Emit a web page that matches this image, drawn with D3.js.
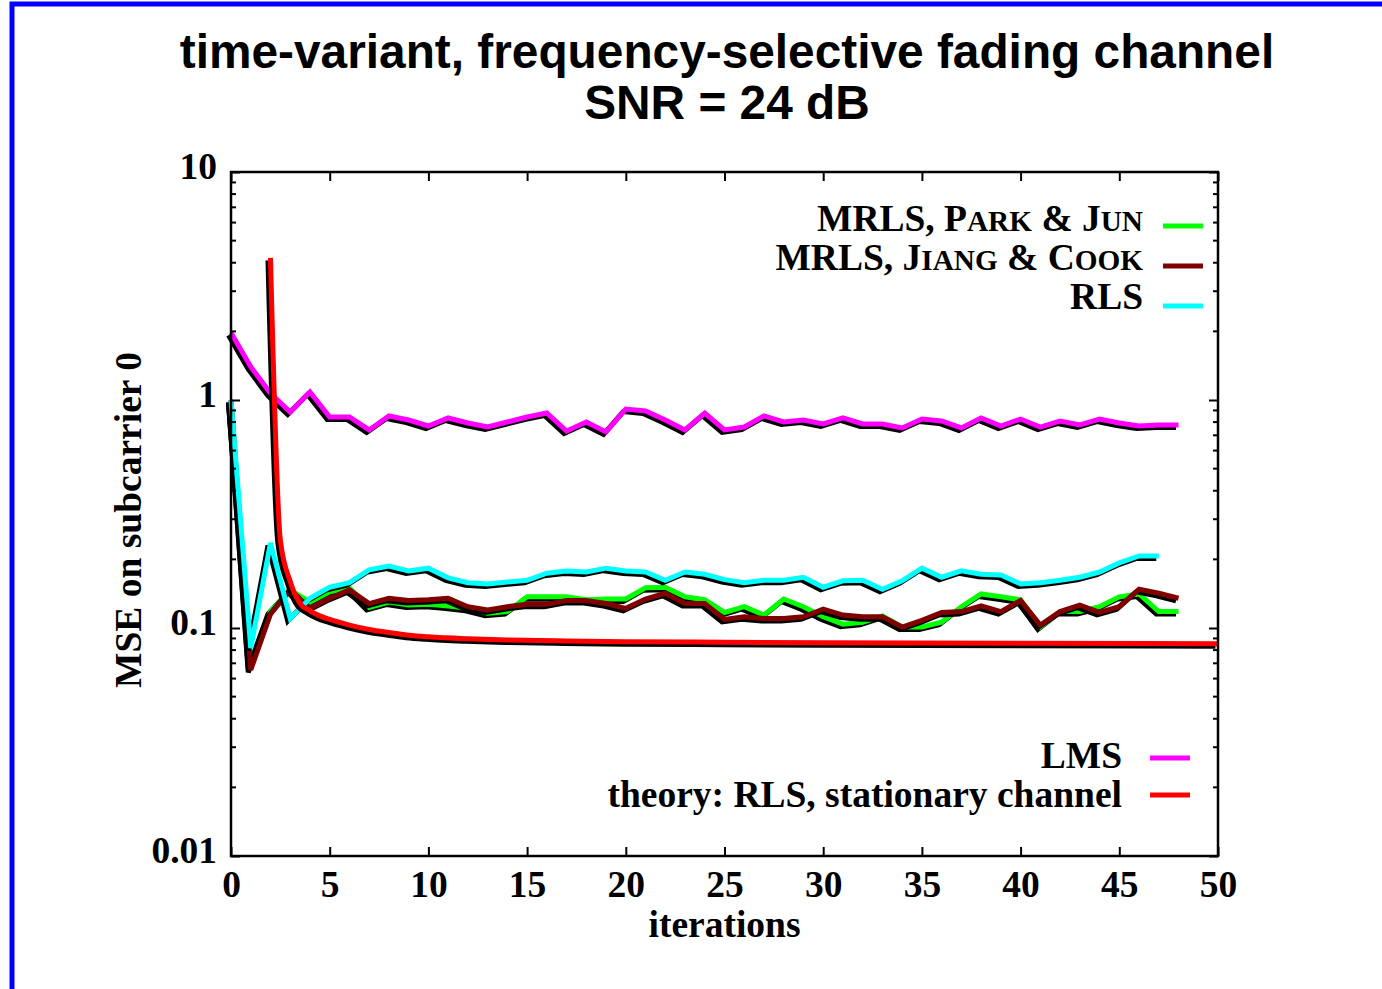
<!DOCTYPE html>
<html>
<head>
<meta charset="utf-8">
<script src="https://cdn.jsdelivr.net/npm/d3@7"></script>
<style>
  html, body { margin: 0; padding: 0; background: #fff; }
  svg { display: block; }
</style>
</head>
<body>
<svg id="chart" width="1382" height="989"></svg>
<script>
// ---------------- DATA ----------------
const titleLines = ["time-variant, frequency-selective fading channel", "SNR = 24 dB"];
const xLabel = "iterations";
const yLabel = "MSE on subcarrier 0";
const xTicks = [0, 5, 10, 15, 20, 25, 30, 35, 40, 45, 50];
const xTickLabels = ["0", "5", "10", "15", "20", "25", "30", "35", "40", "45", "50"];
const yTicks = [0.01, 0.1, 1, 10];
const yTickLabels = ["0.01", "0.1", "1", "10"];

const iterParkJun = d3.range(0, 49);
const mseParkJun = [1.0, 0.068, 0.118, 0.147, 0.130, 0.144, 0.150, 0.123, 0.130, 0.126,
  0.127, 0.125, 0.122, 0.116, 0.118, 0.137, 0.137, 0.137, 0.133, 0.134,
  0.134, 0.150, 0.151, 0.137, 0.133, 0.117, 0.124, 0.114, 0.134, 0.124,
  0.112, 0.104, 0.106, 0.113, 0.101, 0.101, 0.106, 0.124, 0.141, 0.137,
  0.133, 0.101, 0.118, 0.118, 0.124, 0.137, 0.141, 0.118, 0.118];

const iterJiangCook = d3.range(0, 49);
const mseJiangCook = [1.0, 0.0655, 0.115, 0.147, 0.122, 0.135, 0.147, 0.128, 0.135, 0.132,
  0.133, 0.135, 0.124, 0.120, 0.124, 0.127, 0.127, 0.132, 0.132, 0.128,
  0.122, 0.134, 0.142, 0.128, 0.128, 0.109, 0.112, 0.110, 0.110, 0.112,
  0.121, 0.114, 0.112, 0.112, 0.101, 0.108, 0.117, 0.118, 0.125, 0.118,
  0.132, 0.103, 0.118, 0.126, 0.117, 0.124, 0.148, 0.142, 0.135];

const iterRLS = d3.range(0, 48);
const mseRLS = [1.0, 0.0817, 0.236, 0.110, 0.135, 0.151, 0.158, 0.180, 0.187, 0.178,
  0.183, 0.166, 0.158, 0.156, 0.159, 0.162, 0.174, 0.178, 0.176, 0.183,
  0.178, 0.176, 0.162, 0.176, 0.172, 0.163, 0.158, 0.162, 0.162, 0.167,
  0.151, 0.161, 0.162, 0.148, 0.161, 0.183, 0.167, 0.178, 0.172, 0.171,
  0.156, 0.158, 0.162, 0.167, 0.176, 0.193, 0.207, 0.207];

const iterLMS = d3.range(0, 49);
const mseLMS = [1.97, 1.40, 1.07, 0.886, 1.084, 0.842, 0.842, 0.739, 0.851, 0.817,
  0.769, 0.834, 0.793, 0.761, 0.801, 0.842, 0.877, 0.731, 0.801, 0.724,
  0.913, 0.895, 0.817, 0.739, 0.877, 0.739, 0.761, 0.851, 0.801, 0.817,
  0.785, 0.834, 0.785, 0.785, 0.754, 0.825, 0.809, 0.754, 0.834, 0.769,
  0.825, 0.761, 0.809, 0.777, 0.825, 0.793, 0.769, 0.777, 0.777];

const iterTheory = [2, 2.5, 3, 3.5, 4, 4.5, 5, 6, 7, 8, 9, 10, 12, 14, 17, 20, 25, 30, 40, 50];
const mseTheory = [4.2, 0.243, 0.160, 0.128, 0.119, 0.113, 0.109, 0.103, 0.0985, 0.0955,
  0.093, 0.0915, 0.0897, 0.0886, 0.0877, 0.0871, 0.0866, 0.0862, 0.0857, 0.0854];

// ---------------- LAYOUT ----------------
const svg = d3.select("#chart");
const L = 231, R = 1218, T = 172, B = 856;
const serif = "'Liberation Serif', 'Times New Roman', serif";
const sans = "'Liberation Sans', Arial, sans-serif";
const FS = 37.5;

const x = d3.scaleLinear().domain([0, 50]).range([L, R]);
const y = d3.scaleLog().domain([0.01, 10]).range([B, T]);

// blue page border (top & left)
svg.append("rect").attr("x", 12).attr("y", 4).attr("width", 1382).attr("height", 1000)
  .attr("fill", "none").attr("stroke", "#0000ff").attr("stroke-width", 5);

// title
svg.append("text").attr("x", 727).attr("y", 68).attr("text-anchor", "middle")
  .attr("font-family", sans).attr("font-weight", "bold").attr("font-size", 47.8)
  .text(titleLines[0]);
svg.append("text").attr("x", 727).attr("y", 119).attr("text-anchor", "middle")
  .attr("font-family", sans).attr("font-weight", "bold").attr("font-size", 47.8)
  .text(titleLines[1]);

// series
const series = [
  { xs: iterParkJun, ys: mseParkJun, color: "#00ff00", curve: d3.curveLinear },
  { xs: iterJiangCook, ys: mseJiangCook, color: "#800000", curve: d3.curveLinear },
  { xs: iterRLS, ys: mseRLS, color: "#00ffff", curve: d3.curveLinear },
  { xs: iterLMS, ys: mseLMS, color: "#ff00ff", curve: d3.curveLinear },
  { xs: iterTheory, ys: mseTheory, color: "#ff0000", curve: d3.curveMonotoneX }
];

const plot = svg.append("g");
series.forEach(s => {
  const pts = s.xs.map((v, i) => [v, s.ys[i]]);
  const line = d3.line().x(d => x(d[0])).y(d => y(d[1])).curve(s.curve);
  plot.append("path").attr("d", line(pts)).attr("fill", "none")
    .attr("stroke", "#000").attr("stroke-width", 5)
    .attr("transform", "translate(-2.5,2.5)");
  plot.append("path").attr("d", line(pts)).attr("fill", "none")
    .attr("stroke", s.color).attr("stroke-width", 5);
});

// axes
const axisFont = g => g.selectAll("text").attr("font-family", serif)
  .attr("font-weight", "bold").attr("font-size", FS).attr("fill", "#000");

const xAxis = svg.append("g").attr("transform", `translate(0,${B})`)
  .call(d3.axisBottom(x).tickValues(xTicks).tickFormat((d, i) => xTickLabels[i])
    .tickSizeInner(-9).tickSizeOuter(0).tickPadding(14));
xAxis.call(axisFont);
xAxis.select(".domain").remove();
xAxis.selectAll("line").attr("stroke", "#000").attr("stroke-width", 2);

const xAxisTop = svg.append("g").attr("transform", `translate(0,${T})`)
  .call(d3.axisTop(x).tickValues(xTicks).tickFormat("").tickSizeInner(-9).tickSizeOuter(0));
xAxisTop.select(".domain").remove();
xAxisTop.selectAll("line").attr("stroke", "#000").attr("stroke-width", 2);

const yAxis = svg.append("g").attr("transform", `translate(${L},0)`)
  .call(d3.axisLeft(y).tickValues(yTicks).tickFormat((d, i) => yTickLabels[i])
    .tickSizeInner(-9).tickSizeOuter(0).tickPadding(14));
yAxis.call(axisFont);
yAxis.selectAll("text").attr("dy", "0.17em");
yAxis.select(".domain").remove();
yAxis.selectAll("line").attr("stroke", "#000").attr("stroke-width", 2);

const yAxisR = svg.append("g").attr("transform", `translate(${R},0)`)
  .call(d3.axisRight(y).tickValues(yTicks).tickFormat("").tickSizeInner(-9).tickSizeOuter(0));
yAxisR.select(".domain").remove();
yAxisR.selectAll("line").attr("stroke", "#000").attr("stroke-width", 2);

// minor log ticks
const minor = [];
[0.01, 0.1, 1].forEach(dec => { for (let k = 2; k <= 9; k++) minor.push(dec * k); });
svg.append("g").selectAll("line.ml").data(minor).join("line")
  .attr("x1", L).attr("x2", L + 5).attr("y1", d => y(d)).attr("y2", d => y(d))
  .attr("stroke", "#000").attr("stroke-width", 2);
svg.append("g").selectAll("line.mr").data(minor).join("line")
  .attr("x1", R).attr("x2", R - 5).attr("y1", d => y(d)).attr("y2", d => y(d))
  .attr("stroke", "#000").attr("stroke-width", 2);

// frame
svg.append("rect").attr("x", L).attr("y", T).attr("width", R - L).attr("height", B - T)
  .attr("fill", "none").attr("stroke", "#000").attr("stroke-width", 2.5);

// axis labels
svg.append("text").attr("x", (L + R) / 2).attr("y", 937).attr("text-anchor", "middle")
  .attr("font-family", serif).attr("font-weight", "bold").attr("font-size", FS).text(xLabel);
svg.append("text").attr("transform", "translate(141,520) rotate(-90)").attr("text-anchor", "middle")
  .attr("font-family", serif).attr("font-weight", "bold").attr("font-size", FS).text(yLabel);

// legends
const legend1 = [
  { parts: [["MRLS, P", 1], ["ARK", 0.78], [" & J", 1], ["UN", 0.78]], color: "#00ff00", ty: 231, ly: 226 },
  { parts: [["MRLS, J", 1], ["IANG", 0.78], [" & C", 1], ["OOK", 0.78]], color: "#800000", ty: 270, ly: 266 },
  { parts: [["RLS", 1]], color: "#00ffff", ty: 309, ly: 306 }
];
const legend2 = [
  { parts: [["LMS", 1]], color: "#ff00ff", ty: 768, ly: 758 },
  { parts: [["theory: RLS, stationary channel", 1]], color: "#ff0000", ty: 807, ly: 795 }
];
function drawLegend(items, textX, x1, x2) {
  items.forEach(it => {
    const t = svg.append("text").attr("x", textX).attr("y", it.ty).attr("text-anchor", "end")
      .attr("font-family", serif).attr("font-weight", "bold").attr("font-size", FS);
    it.parts.forEach(p => t.append("tspan").attr("font-size", FS * p[1]).text(p[0]));
    svg.append("line").attr("x1", x1).attr("x2", x2).attr("y1", it.ly).attr("y2", it.ly)
      .attr("stroke", it.color).attr("stroke-width", 5);
  });
}
drawLegend(legend1, 1143, 1163, 1203);
drawLegend(legend2, 1122, 1150, 1190);
</script>
</body>
</html>
